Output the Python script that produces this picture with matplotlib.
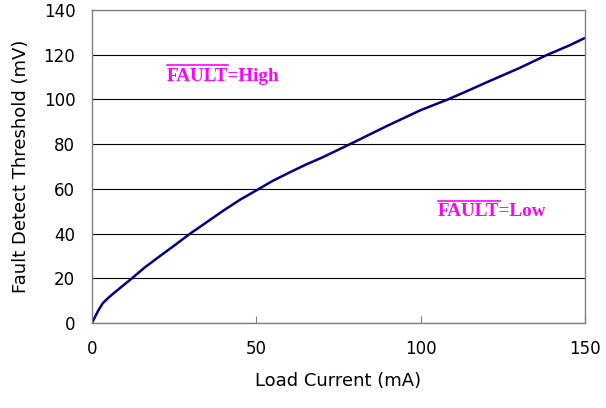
import matplotlib
matplotlib.use("Agg")
import matplotlib.pyplot as plt
from matplotlib.lines import Line2D
from matplotlib.transforms import IdentityTransform

current_ma = [0, 1, 2, 3.3, 5, 7, 9, 12, 16, 20, 25, 29.7, 35, 40, 45, 50.8, 55, 60.2, 65, 70, 78.5, 85, 90, 100, 108.3, 115, 120, 130, 138.3, 145, 150]
threshold_mv = [0, 3, 5.8, 8.9, 11.3, 13.8, 16.2, 19.8, 24.8, 29.2, 34.6, 39.8, 45.2, 50.3, 55.1, 60, 63.6, 67.4, 70.8, 74, 80, 84.7, 88.3, 95.2, 100, 104.3, 107.6, 114, 119.8, 124, 127.5]
x_ticks = [0, 50, 100, 150]
y_ticks = [0, 20, 40, 60, 80, 100, 120, 140]

fig = plt.figure(figsize=(6.06, 4.08), dpi=100)
ax = fig.add_axes([0.1518, 0.2083, 0.8135, 0.7672])

ax.plot(current_ma, threshold_mv, color='#000080', lw=1.8, solid_capstyle='round', solid_joinstyle='round')
ax.set_xlim(0, 150)
ax.set_ylim(0, 140)
ax.set_xticks(x_ticks)
ax.set_yticks(y_ticks)
ax.yaxis.grid(True, color='black', lw=0.8)
ax.set_axisbelow(True)
for s in ax.spines.values():
    s.set_color('#808080')
    s.set_linewidth(1.0)
ax.tick_params(axis='x', direction='in', length=5, pad=12, labelsize=12, color='#808080')
ax.tick_params(axis='y', direction='in', length=0, pad=12, labelsize=12)
ax.set_xlabel('Load Current (mA)', fontsize=13, labelpad=10)
ax.set_ylabel('Fault Detect Threshold (mV)', fontsize=13, labelpad=10)

style = dict(color='#FF00FF', fontsize=13.8, fontfamily='Liberation Serif', fontweight='bold',
             va='baseline', ha='left')
measures = []
for (x0, y0, rest) in [(22.7, 108.3, '=High'), (105.3, 47.8, '=Low')]:
    ax.text(x0, y0, 'FAULT' + rest, **style)
    m = ax.text(x0, y0, 'FAULT', alpha=0, **style)
    measures.append(m)

fig.canvas.draw()
renderer = fig.canvas.get_renderer()
for m in measures:
    bb = m.get_window_extent(renderer)
    ytop = bb.y1 + 2.5
    fig.add_artist(Line2D([bb.x0, bb.x1], [ytop, ytop], color='#FF00FF', lw=1.2,
                          transform=IdentityTransform()))

fig.savefig('out.png', dpi=100)
